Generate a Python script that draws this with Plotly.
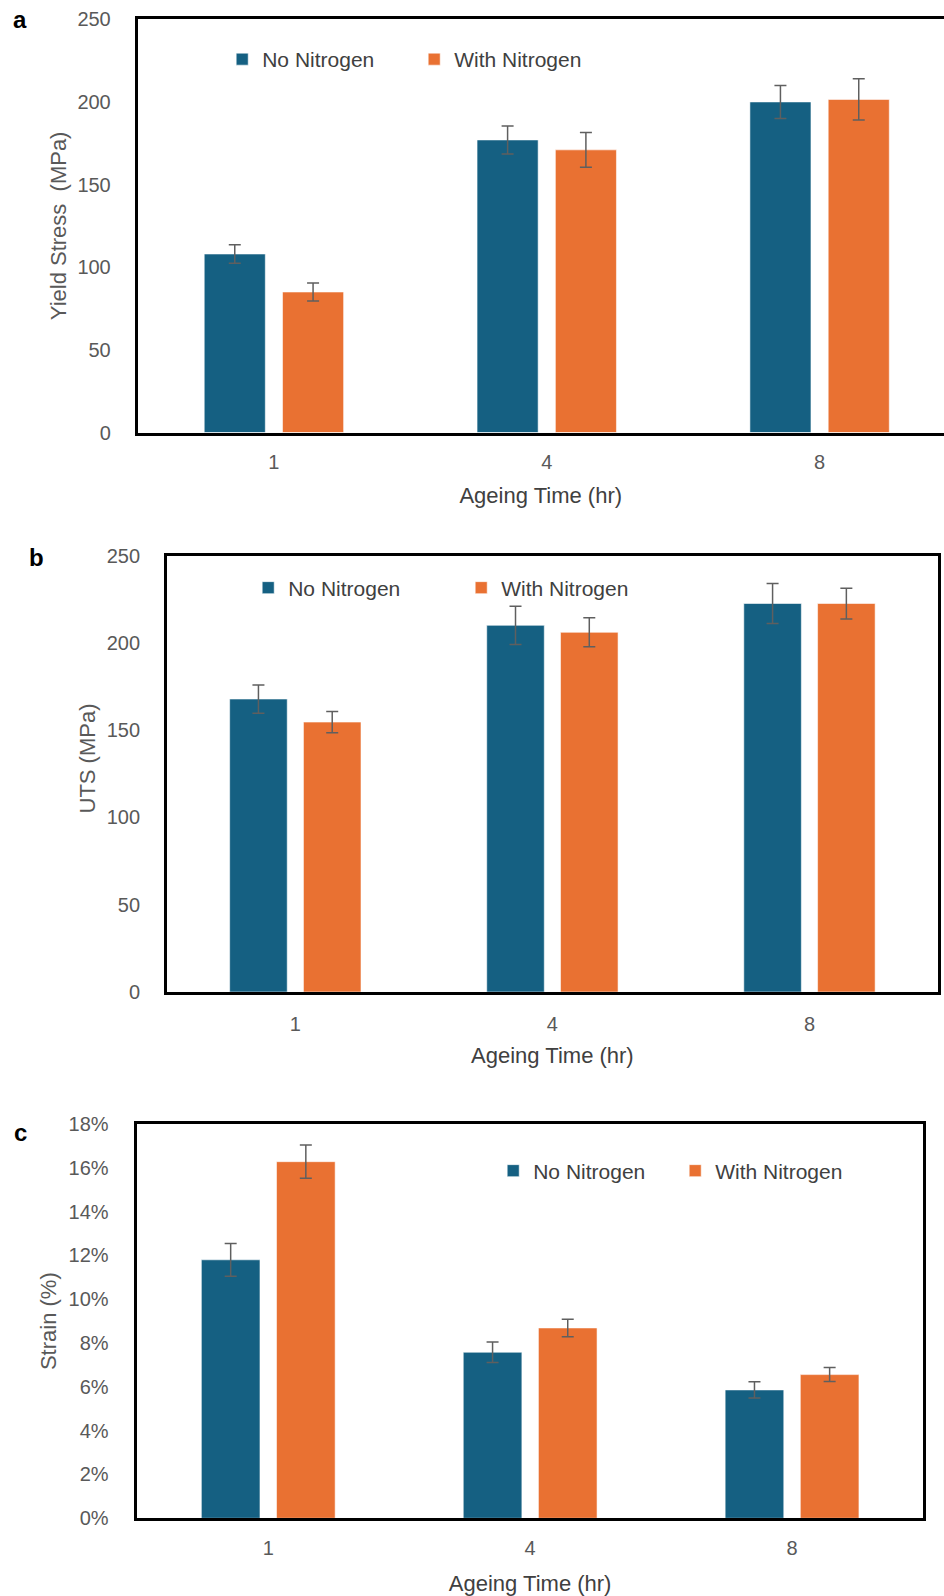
import plotly.graph_objects as go

# ---------------- data ----------------
categories = ["1", "4", "8"]
series_names = ["No Nitrogen", "With Nitrogen"]

yield_no_n = [108, 177, 200]
yield_no_n_err = [5.6, 8.5, 10]
yield_with_n = [85, 171, 201.5]
yield_with_n_err = [5.5, 10.5, 12.5]

uts_no_n = [167.8, 210, 222.5]
uts_no_n_err = [8.1, 11, 11.4]
uts_with_n = [154.6, 206, 222.5]
uts_with_n_err = [6.1, 8.3, 8.8]

strain_no_n = [11.8, 7.58, 5.86]
strain_no_n_err = [0.75, 0.47, 0.37]
strain_with_n = [16.28, 8.69, 6.56]
strain_with_n_err = [0.76, 0.40, 0.32]

yticks_a = [0, 50, 100, 150, 200, 250]
yticks_b = [0, 50, 100, 150, 200, 250]
yticks_c = [0, 2, 4, 6, 8, 10, 12, 14, 16, 18]
yticktext_c = [f"{v}%" for v in yticks_c]

# ---------------- styling ----------------
W, H = 944, 1596
BLUE = "#156082"
ORANGE = "#E97132"
ERR = "#5f5f5f"
FAM = "Liberation Sans, Arial, sans-serif"
TICK_FONT = dict(family=FAM, size=20, color="#595959")
TITLE_FONT = dict(family=FAM, size=22, color="#595959")
XTITLE_FONT = dict(family=FAM, size=22, color="#404040")
LEG_FONT = dict(family=FAM, size=21, color="#404040")


def fx(px):
    return px / W


def fy(py):
    return 1 - py / H


fig = go.Figure()

panels = [
    ("x", "y", "legend", yield_no_n, yield_no_n_err, yield_with_n, yield_with_n_err),
    ("x2", "y2", "legend2", uts_no_n, uts_no_n_err, uts_with_n, uts_with_n_err),
    ("x3", "y3", "legend3", strain_no_n, strain_no_n_err, strain_with_n, strain_with_n_err),
]

for xa, ya, leg, v1, e1, v2, e2 in panels:
    for name, vals, errs, col in [(series_names[0], v1, e1, BLUE), (series_names[1], v2, e2, ORANGE)]:
        fig.add_trace(go.Bar(
            x=categories, y=vals, name=name, xaxis=xa, yaxis=ya, legend=leg,
            marker=dict(color=col, line=dict(color="rgba(255,255,255,0.55)", width=1)),
            error_y=dict(type="data", array=errs, visible=True, color=ERR, thickness=1.5, width=6),
        ))

axis_common = dict(
    showgrid=False, zeroline=False, showline=True, linecolor="black", linewidth=2.5,
    ticks="", tickfont=TICK_FONT, automargin=False,
)

layout = dict(
    width=W, height=H,
    margin=dict(l=0, r=0, t=0, b=0),
    paper_bgcolor="white", plot_bgcolor="white",
    barmode="group", bargap=0.426, bargroupgap=0.22,
    showlegend=True,
    # panel a
    xaxis=dict(axis_common, domain=[fx(137.5), 1.0], anchor="y", mirror=True,
               type="category", range=[-0.5, 2.456], ticklabelstandoff=10,
               title=dict(text="Ageing Time (hr)", font=XTITLE_FONT, standoff=16)),
    yaxis=dict(axis_common, domain=[fy(432.5), fy(19.3)], anchor="x", mirror=False,
               range=[0, 250], tickvals=yticks_a, ticklabelstandoff=20,
               title=dict(text="Yield Stress\u00a0 (MPa)", font=TITLE_FONT, standoff=5)),
    # panel b
    xaxis2=dict(axis_common, domain=[fx(166.8), fx(938)], anchor="y2", mirror=True,
                type="category", range=[-0.5, 2.5], ticklabelstandoff=12,
                title=dict(text="Ageing Time (hr)", font=XTITLE_FONT, standoff=14)),
    yaxis2=dict(axis_common, domain=[fy(992), fy(555.5)], anchor="x2", mirror=True,
                range=[0, 250], tickvals=yticks_b, ticklabelstandoff=20),
    # panel c
    xaxis3=dict(axis_common, domain=[fx(137.3), fx(923)], anchor="y3", mirror=True,
                type="category", range=[-0.5, 2.5], ticklabelstandoff=10,
                title=dict(text="Ageing Time (hr)", font=XTITLE_FONT, standoff=18)),
    yaxis3=dict(axis_common, domain=[fy(1518.3), fy(1124)], anchor="x3", mirror=True,
                range=[0, 18], tickvals=yticks_c, ticktext=yticktext_c, ticklabelstandoff=22,
                title=dict(text="Strain (%)", font=TITLE_FONT, standoff=6)),
    legend=dict(orientation="h", x=fx(222.2), xanchor="left", y=fy(59.5), yanchor="middle",
                font=LEG_FONT, entrywidth=147, entrywidthmode="pixels",
                bgcolor="rgba(0,0,0,0)", borderwidth=0),
    legend2=dict(orientation="h", x=fx(248.2), xanchor="left", y=fy(588), yanchor="middle",
                 font=LEG_FONT, entrywidth=168, entrywidthmode="pixels",
                 bgcolor="rgba(0,0,0,0)", borderwidth=0),
    legend3=dict(orientation="h", x=fx(493.2), xanchor="left", y=fy(1171), yanchor="middle",
                 font=LEG_FONT, entrywidth=137, entrywidthmode="pixels",
                 bgcolor="rgba(0,0,0,0)", borderwidth=0),
    annotations=[
        dict(text="UTS (MPa)", x=fx(86.5), y=fy(759), xref="paper", yref="paper",
             xanchor="center", yanchor="middle", textangle=-90, showarrow=False,
             font=TITLE_FONT),
        dict(text="<b>a</b>", x=fx(20), y=fy(20), xref="paper", yref="paper",
             xanchor="center", yanchor="middle", showarrow=False,
             font=dict(family=FAM, size=24, color="black")),
        dict(text="<b>b</b>", x=fx(36.5), y=fy(557), xref="paper", yref="paper",
             xanchor="center", yanchor="middle", showarrow=False,
             font=dict(family=FAM, size=24, color="black")),
        dict(text="<b>c</b>", x=fx(20), y=fy(1132), xref="paper", yref="paper",
             xanchor="center", yanchor="middle", showarrow=False,
             font=dict(family=FAM, size=24, color="black")),
    ],
)

fig.update_layout(layout)
fig.write_html("out.html")
